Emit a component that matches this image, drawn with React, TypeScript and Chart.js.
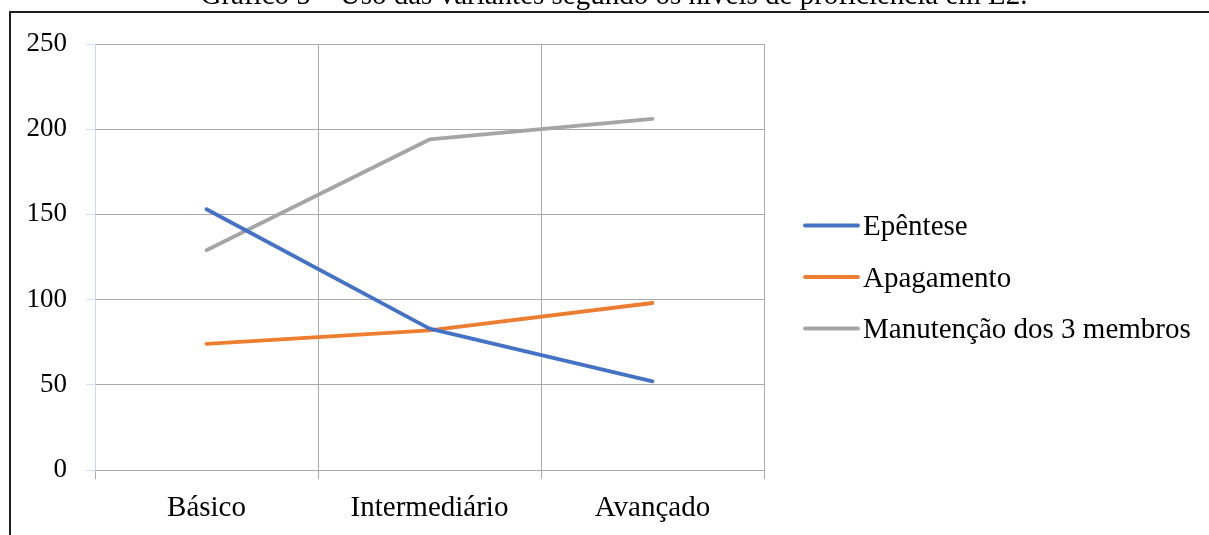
import React, { useEffect, useRef } from "react";
import { Chart, registerables } from "chart.js";

Chart.register(...registerables);

// Proficiency levels (category axis)
const levels = ["Básico", "Intermediário", "Avançado"];

// Occurrences of each variant per level
const epentese = [153, 83, 52];
const apagamento = [74, 82, 98];
const manutencao = [129, 194, 206];

const seriesNames = ["Epêntese", "Apagamento", "Manutenção dos 3 membros"];
const seriesColors = ["#4472C4", "#ED7D31", "#A5A5A5"];

// Value axis ticks
const yMin = 0;
const yMax = 250;
const yStep = 50;

const chartTitle =
  "Gráfico 5 – Uso das variantes segundo os níveis de proficiência em L2.";

const FONT = "'Liberation Serif', 'Times New Roman', serif";
const W = 1209;
const H = 535;

// Draws the page frame, the caption above it and the line legend on the right
const decorPlugin = {
  id: "decor",
  beforeDraw(chart: any) {
    const ctx = chart.ctx;
    ctx.save();
    ctx.fillStyle = "#ffffff";
    ctx.fillRect(0, 0, chart.width, chart.height);
    ctx.restore();
  },
  afterDraw(chart: any) {
    const ctx = chart.ctx;
    const area = chart.chartArea;
    ctx.save();

    // frame
    ctx.strokeStyle = "#1f1f1f";
    ctx.lineWidth = 2;
    ctx.beginPath();
    ctx.moveTo(10, chart.height);
    ctx.lineTo(10, 12);
    ctx.lineTo(chart.width, 12);
    ctx.stroke();

    // caption (partly above the visible page)
    ctx.fillStyle = "#000000";
    ctx.font = `29px ${FONT}`;
    ctx.textAlign = "center";
    ctx.textBaseline = "alphabetic";
    ctx.fillText(chartTitle, 614, 4);

    // legend
    const datasets = chart.data.datasets;
    const rowGap = 51.5;
    const centerY = 277;
    const startY = centerY - ((datasets.length - 1) * rowGap) / 2;
    const lineX0 = area.right + 41;
    const lineLen = 53;
    ctx.textAlign = "left";
    ctx.font = `29px ${FONT}`;
    datasets.forEach((ds: any, i: number) => {
      const y = startY + i * rowGap;
      ctx.strokeStyle = ds.borderColor;
      ctx.lineWidth = 3.8;
      ctx.lineCap = "round";
      ctx.beginPath();
      ctx.moveTo(lineX0, y);
      ctx.lineTo(lineX0 + lineLen, y);
      ctx.stroke();
      ctx.fillStyle = "#000000";
      ctx.fillText(ds.label, lineX0 + lineLen + 5, y + 9.5);
    });
    ctx.restore();
  },
};

export default function App() {
  const canvasRef = useRef<HTMLCanvasElement | null>(null);

  useEffect(() => {
    const canvas = canvasRef.current;
    if (!canvas) return;
    const values = [epentese, apagamento, manutencao];
    const chart = new Chart(canvas, {
      type: "line",
      data: {
        labels: levels,
        datasets: values.map((v, i) => ({
          label: seriesNames[i],
          data: v,
          borderColor: seriesColors[i],
          backgroundColor: seriesColors[i],
          borderWidth: 3.8,
          borderCapStyle: "round",
          borderJoinStyle: "round",
          pointRadius: 0,
          pointHoverRadius: 0,
          tension: 0,
          fill: false,
        })),
      },
      options: {
        responsive: false,
        animation: false,
        events: [],
        layout: { padding: { left: 0, top: 44, right: W - 764, bottom: 0 } },
        plugins: {
          legend: { display: false },
          title: { display: false },
          tooltip: { enabled: false },
        },
        scales: {
          x: {
            type: "category",
            offset: true,
            grid: {
              offset: true,
              color: "#aaaaaa",
              lineWidth: 1,
              tickLength: 9,
              tickColor: "#aaaaaa",
            },
            border: { color: "#aaaaaa", width: 1 },
            ticks: {
              color: "#000000",
              padding: 12,
              font: { family: FONT, size: 29 },
              maxRotation: 0,
            },
            afterFit(scale: any) {
              scale.height = H - 470;
            },
          },
          y: {
            min: yMin,
            max: yMax,
            grid: {
              color: "#aaaaaa",
              lineWidth: 1,
              tickLength: 9,
              tickColor: "#d3def6",
            },
            border: { color: "#c6d6f5", width: 1 },
            ticks: {
              stepSize: yStep,
              color: "#000000",
              padding: 19,
              font: { family: FONT, size: 27 },
            },
            afterFit(scale: any) {
              scale.width = 95;
            },
          },
        },
      },
      plugins: [decorPlugin],
    } as any);
    return () => chart.destroy();
  }, []);

  return (
    <div
      style={{
        position: "fixed",
        left: 0,
        top: 0,
        width: W,
        height: H,
        background: "#ffffff",
      }}
    >
      <canvas
        ref={canvasRef}
        width={W}
        height={H}
        style={{ display: "block", width: W, height: H }}
      />
    </div>
  );
}
